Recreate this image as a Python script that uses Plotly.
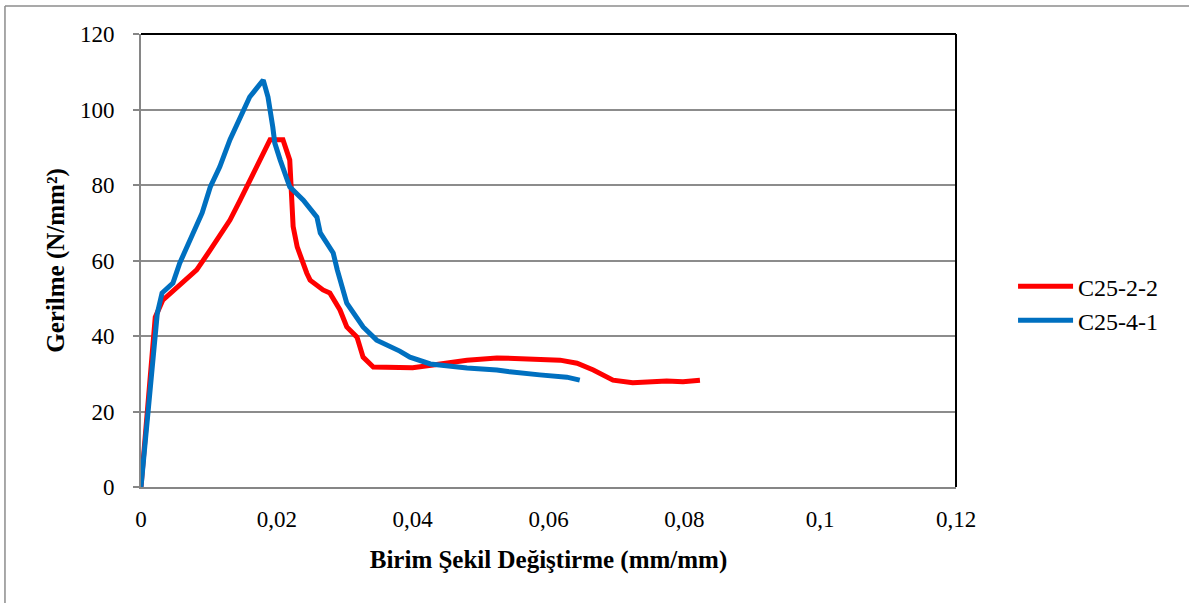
import plotly.graph_objects as go

red_x = [0.0, 0.0021, 0.0032, 0.0053, 0.0082, 0.0102, 0.0131, 0.0146, 0.0171, 0.0190, 0.0209,
         0.0219, 0.0224, 0.0230, 0.0244, 0.0249, 0.0268, 0.0278, 0.0293, 0.0303, 0.0318, 0.0327,
         0.0342, 0.0377, 0.0400, 0.0430, 0.0480, 0.0524, 0.0577, 0.0617, 0.0642, 0.0666, 0.0695,
         0.0724, 0.0774, 0.0798, 0.0823]
red_y = [0, 45, 49.5, 53, 57.5, 62.8, 70.7, 76, 84.8, 92, 92,
         86.6, 69, 63.6, 56.7, 54.8, 52.2, 51.4, 46.9, 42.4, 39.7, 34.4,
         31.8, 31.5, 31.6, 32.3, 33.6, 34.2, 33.9, 33.6, 32.8, 31, 28.3,
         27.6, 28.1, 27.9, 28.3]

blue_x = [0.0, 0.0024, 0.0031, 0.0047, 0.0057, 0.0072, 0.0090, 0.0102, 0.0116, 0.0131, 0.0146,
          0.0160, 0.0180, 0.0187, 0.0194, 0.0197, 0.0205, 0.0219, 0.0239, 0.0259, 0.0264, 0.0283,
          0.0289, 0.0303, 0.0327, 0.0347, 0.0381, 0.0396, 0.0426, 0.0480, 0.0524, 0.0543, 0.0587,
          0.0627, 0.0646]
blue_y = [0, 46, 51.4, 54, 59.3, 65.4, 72.6, 79.5, 84.8, 92, 98,
          103.3, 107.8, 103.3, 95.4, 91.1, 86.6, 79.5, 76, 71.5, 67.3, 62,
          57.5, 48.7, 42.4, 38.9, 36, 34.4, 32.6, 31.5, 31, 30.5, 29.7,
          29.1, 28.3]

x_ticks = [0, 0.02, 0.04, 0.06, 0.08, 0.1, 0.12]
x_labels = ["0", "0,02", "0,04", "0,06", "0,08", "0,1", "0,12"]
y_ticks = [0, 20, 40, 60, 80, 100, 120]

font_family = "Liberation Serif"

fig = go.Figure()
fig.add_trace(go.Scatter(x=red_x, y=red_y, mode="lines", name="C25-2-2",
                         line=dict(color="#FF0000", width=5)))
fig.add_trace(go.Scatter(x=blue_x, y=blue_y, mode="lines", name="C25-4-1",
                         line=dict(color="#0070C0", width=5)))

fig.update_layout(
    width=1189, height=603,
    margin=dict(l=141, r=233, t=34, b=116),
    paper_bgcolor="white", plot_bgcolor="white",
    font=dict(family=font_family, size=23, color="black"),
    separators=", ",
    legend=dict(x=1.07, y=0.405, xanchor="left", yanchor="middle",
                font=dict(size=24, family=font_family), tracegroupgap=8,
                itemwidth=55),
    xaxis=dict(range=[0, 0.12], tickvals=x_ticks, ticktext=x_labels,
               showgrid=False, zeroline=False, showline=True,
               linecolor="#868686", linewidth=2,
               ticklabelstandoff=10,
               title=dict(text="<b>Birim Şekil Değiştirme (mm/mm)</b>",
                          font=dict(size=25, family=font_family), standoff=20),
               tickfont=dict(size=23, family=font_family)),
    yaxis=dict(range=[0, 120], tickvals=y_ticks,
               showgrid=True, gridcolor="#8C8C8C", gridwidth=2,
               zeroline=False, showline=True, linecolor="#868686", linewidth=2,
               ticks="outside", ticklen=6, tickcolor="#868686", tickwidth=2,
               ticklabelstandoff=14,
               title=dict(text="<b>Gerilme (N/mm²)</b>",
                          font=dict(size=25, family=font_family), standoff=8),
               tickfont=dict(size=23, family=font_family)),
    shapes=[
        dict(type="line", xref="paper", yref="paper", x0=0, x1=1, y0=1, y1=1,
             line=dict(color="black", width=2)),
        dict(type="line", xref="paper", yref="paper", x0=1, x1=1, y0=0, y1=1,
             line=dict(color="black", width=2)),
        dict(type="line", xref="paper", yref="paper", x0=-0.1669, x1=-0.1669,
             y0=-0.3, y1=1.062, line=dict(color="#8C8C8C", width=1.5)),
        dict(type="line", xref="paper", yref="paper", x0=-0.1669, x1=1.3,
             y0=1.062, y1=1.062, line=dict(color="#8C8C8C", width=1.5)),
    ],
)

fig.write_html("out.html", config={"displayModeBar": False},
               post_script="document.body.style.margin='0';")
